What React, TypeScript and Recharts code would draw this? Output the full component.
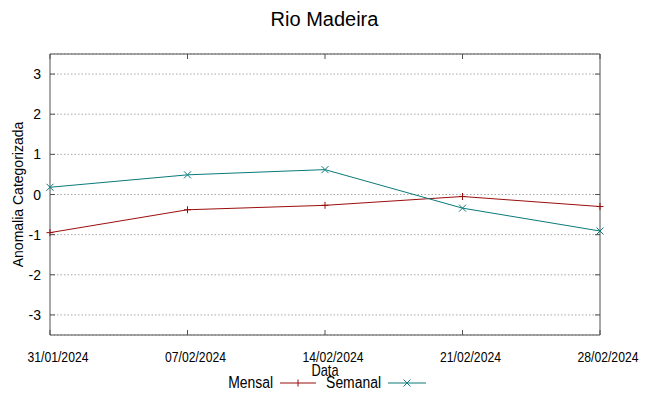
import { LineChart, Line, XAxis, YAxis, CartesianGrid, ReferenceArea } from "recharts";

const dates = ["31/01/2024", "07/02/2024", "14/02/2024", "21/02/2024", "28/02/2024"];
const mensal = [-0.95, -0.38, -0.27, -0.05, -0.3];
const semanal = [0.18, 0.49, 0.62, -0.34, -0.91];
const yTicks = [-3, -2, -1, 0, 1, 2, 3];

const data = dates.map((d, i) => ({ i, date: d, mensal: mensal[i], semanal: semanal[i] }));

const RED = "#9a0d0d";
const TEAL = "#0a7a7a";
const FRAME = "#505050";
const SANS = "'Liberation Sans', Arial, sans-serif";

// plot box (set by chart margins below)
const PLOT_TOP = 54;
const PLOT_RIGHT = 600;

const Plus = (props: any) => {
  const { cx, cy } = props;
  if (cx == null || cy == null) return null;
  return (
    <g>
      <line x1={cx - 3.5} x2={cx + 3.5} y1={cy} y2={cy} stroke={RED} />
      <line x1={cx} x2={cx} y1={cy - 3.5} y2={cy + 3.5} stroke={RED} />
    </g>
  );
};

const Cross = (props: any) => {
  const { cx, cy } = props;
  if (cx == null || cy == null) return null;
  return (
    <g>
      <line x1={cx - 3.5} x2={cx + 3.5} y1={cy - 3.5} y2={cy + 3.5} stroke={TEAL} />
      <line x1={cx - 3.5} x2={cx + 3.5} y1={cy + 3.5} y2={cy - 3.5} stroke={TEAL} />
    </g>
  );
};

// squeezed text to mimic the narrow face of the original
const NarrowText = ({ x, y, size, sx = 0.87, anchor = "middle", children }: any) => (
  <text
    transform={`translate(${x} ${y}) scale(${sx} 1)`}
    textAnchor={anchor}
    fontSize={size}
    fontFamily={SANS}
    fill="#000"
  >
    {children}
  </text>
);

const BottomTick = (props: any) => {
  const { x, y, payload } = props;
  return (
    <g>
      <line x1={x} x2={x} y1={y} y2={y - 5} stroke={FRAME} />
      <line x1={x} x2={x} y1={PLOT_TOP} y2={PLOT_TOP + 5} stroke={FRAME} />
      <NarrowText x={x + 8} y={y + 26.5} size={14}>
        {dates[payload.value]}
      </NarrowText>
    </g>
  );
};

const LeftTick = (props: any) => {
  const { x, y, payload } = props;
  return (
    <g>
      <line x1={x} x2={x + 5} y1={y} y2={y} stroke={FRAME} />
      <line x1={PLOT_RIGHT} x2={PLOT_RIGHT - 5} y1={y} y2={y} stroke={FRAME} />
      <text x={x - 9} y={y + 5} textAnchor="end" fontSize={14} fontFamily={SANS} fill="#000">
        {payload.value}
      </text>
    </g>
  );
};

const series = [
  { name: "Mensal", color: RED, end: 273, l1: 280, l2: 316, mark: "plus" },
  { name: "Semanal", color: TEAL, end: 381, l1: 388, l2: 426, mark: "cross" },
];

const LegendBox = () => (
  <svg width={649} height={22} style={{ position: "absolute", left: 0, top: 373 }}>
    {series.map((s, k) => {
      const mx = (s.l1 + s.l2) / 2;
      return (
        <g key={k}>
          <NarrowText x={s.end} y={15} size={16} anchor="end">
            {s.name}
          </NarrowText>
          <line x1={s.l1} x2={s.l2} y1={10} y2={10} stroke={s.color} />
          {s.mark === "plus" ? (
            <line x1={mx} x2={mx} y1={6.5} y2={13.5} stroke={s.color} />
          ) : (
            <g>
              <line x1={mx - 3.5} x2={mx + 3.5} y1={6.5} y2={13.5} stroke={s.color} />
              <line x1={mx - 3.5} x2={mx + 3.5} y1={13.5} y2={6.5} stroke={s.color} />
            </g>
          )}
        </g>
      );
    })}
  </svg>
);

export default function App() {
  return (
    <div style={{ position: "absolute", left: 0, top: 0, width: 649, height: 396, background: "#fff" }}>
      <div
        style={{
          position: "absolute",
          left: 0,
          top: 7,
          width: 649,
          textAlign: "center",
          fontFamily: SANS,
          fontSize: 20,
          lineHeight: "24px",
          color: "#000",
        }}
      >
        Rio Madeira
      </div>
      <LineChart width={649} height={396} data={data} margin={{ top: 54, right: 49, bottom: 31, left: 20 }}>
        <CartesianGrid vertical={false} stroke="#a8a8a8" strokeDasharray="1.5 2" />
        <XAxis
          dataKey="i"
          type="number"
          domain={[0, 4]}
          ticks={[0, 1, 2, 3, 4]}
          height={30}
          tickSize={0}
          tickMargin={0}
          axisLine={false}
          tickLine={false}
          tick={<BottomTick />}
          interval={0}
          label={{
            content: (p: any) => (
              <NarrowText x={p.viewBox.x + p.viewBox.width / 2} y={p.viewBox.y + 41} size={16} sx={0.8}>
                Data
              </NarrowText>
            ),
          }}
        />
        <YAxis
          domain={[-3.5, 3.5]}
          ticks={yTicks}
          width={30}
          tickSize={0}
          tickMargin={0}
          axisLine={false}
          tickLine={false}
          tick={<LeftTick />}
          interval={0}
          label={{
            content: (p: any) => {
              const cx = p.viewBox.x - 2;
              const cy = p.viewBox.y + p.viewBox.height / 2;
              return (
                <text
                  x={cx}
                  y={cy}
                  transform={`rotate(-90 ${cx} ${cy})`}
                  textAnchor="middle"
                  dominantBaseline="central"
                  fontSize={14}
                  fontFamily={SANS}
                  fill="#000"
                >
                  Anomalia Categorizada
                </text>
              );
            },
          }}
        />
        <ReferenceArea x1={0} x2={4} y1={-3.5} y2={3.5} fill="none" stroke={FRAME} strokeWidth={1} />
        <Line
          dataKey="mensal"
          name="Mensal"
          stroke={RED}
          strokeWidth={1}
          dot={<Plus />}
          activeDot={false}
          isAnimationActive={false}
        />
        <Line
          dataKey="semanal"
          name="Semanal"
          stroke={TEAL}
          strokeWidth={1}
          dot={<Cross />}
          activeDot={false}
          isAnimationActive={false}
        />
      </LineChart>
      <LegendBox />
    </div>
  );
}
